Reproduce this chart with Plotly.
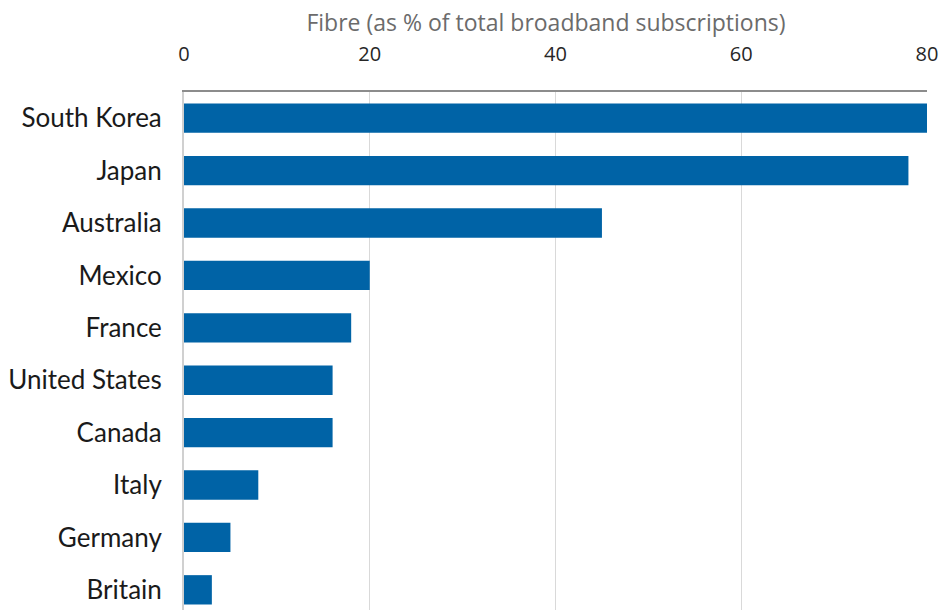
import plotly.graph_objects as go

countries = ["South Korea", "Japan", "Australia", "Mexico", "France",
             "United States", "Canada", "Italy", "Germany", "Britain"]
fibre_share = [81, 78, 45, 20, 18, 16, 16, 8, 5, 3]
x_ticks = [0, 20, 40, 60, 80]

fig = go.Figure(go.Bar(
    x=fibre_share, y=countries, orientation="h",
    marker=dict(color="#0063A6", line=dict(width=0)),
    width=0.56, cliponaxis=True,
))

fig.update_layout(
    width=941, height=610,
    margin=dict(l=184, r=14, t=92, b=0, pad=0),
    plot_bgcolor="white", paper_bgcolor="white",
    showlegend=False,
    bargap=0.44,
    title=dict(text="Fibre (as % of total broadband subscriptions)",
               font=dict(family="Open Sans", size=23, color="#6b6b6b"),
               x=546 / 941, xref="container", xanchor="center",
               y=1 - 23 / 610, yref="container", yanchor="middle"),
)
fig.update_xaxes(
    side="top", range=[0, 80], tickvals=x_ticks, automargin=False,
    showgrid=True, gridcolor="#d9d9d9", gridwidth=1,
    showline=True, linecolor="#8c8c8c", linewidth=2,
    ticks="", ticklabelstandoff=21,
    tickfont=dict(family="Open Sans", size=20, color="#262626"),
    zeroline=False,
)
fig.update_yaxes(
    categoryorder="array", categoryarray=countries, automargin=False,
    range=[9.385, -0.5],
    showline=True, linecolor="#d0d0d0", linewidth=2,
    ticks="", ticklabelstandoff=15,
    tickfont=dict(family="Lato", size=26, color="#1a1a1a"),
    showgrid=False,
)

fig.write_html("out.html", config={"displayModeBar": False},
               post_script="document.body.style.margin='0';document.body.style.overflow='hidden';")
